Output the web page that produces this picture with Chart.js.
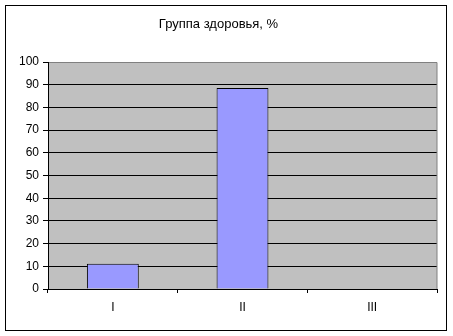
<!DOCTYPE html>
<html>
<head>
  <title>Группа здоровья</title>
  <script src="https://cdn.jsdelivr.net/npm/chart.js"></script>
  <style type="text/css">
    html, body { margin: 0; padding: 0; background: #fff; }
    .chart-box { position: relative; width: 453px; height: 336px; }
  </style>
</head>
<body>
  <div class="chart-box">
    <canvas id="myChart" width="453" height="336"></canvas>
  </div>
  <script>
    const categories = ['I', 'II', 'III'];
    const percents = [11.1, 88.6, 0];
    const yTicks = [0, 10, 20, 30, 40, 50, 60, 70, 80, 90, 100];

    // серый фон области построения, рамка диаграммы
    const excelLook = {
      id: 'excelLook',
      beforeDraw(chart) {
        const { ctx, chartArea: a } = chart;
        ctx.save();
        ctx.fillStyle = '#c0c0c0';
        ctx.fillRect(a.left, a.top, a.right - a.left, a.bottom - a.top);
        ctx.restore();
      },
      afterDraw(chart) {
        const { ctx, chartArea: a } = chart;
        ctx.save();
        ctx.strokeStyle = '#808080';
        ctx.lineWidth = 1;
        ctx.beginPath();
        ctx.moveTo(a.left + 1, Math.round(a.top) + 0.5);
        ctx.lineTo(a.right, Math.round(a.top) + 0.5);
        ctx.lineTo(a.right, a.bottom);
        ctx.stroke();
        ctx.strokeStyle = '#000';
        ctx.strokeRect(5.5, 5.5, 441, 325);
        ctx.restore();
      }
    };

    const ctx = document.getElementById('myChart').getContext('2d');
    const myChart = new Chart(ctx, {
      type: 'bar',
      data: {
        labels: categories,
        datasets: [{
          data: percents,
          backgroundColor: '#9999ff',
          borderColor: '#000',
          borderWidth: 1,
          barPercentage: 0.4,
          categoryPercentage: 1
        }]
      },
      options: {
        responsive: false,
        animation: false,
        devicePixelRatio: 1,
        layout: { padding: { top: 16, right: 16, bottom: 17, left: 0 } },
        plugins: {
          legend: { display: false },
          tooltip: { enabled: false },
          title: {
            display: true,
            text: 'Группа здоровья, %',
            color: '#000',
            font: { family: 'Liberation Sans, Arial', size: 13, weight: 'normal' },
            padding: { top: 0.2, bottom: 30.2 }
          }
        },
        scales: {
          x: {
            offset: true,
            grid: { offset: true, drawOnChartArea: false, drawTicks: true, tickLength: 4, color: '#000' },
            border: { color: '#000' },
            ticks: { color: '#000', padding: 7, font: { family: 'Liberation Sans, Arial', size: 12 } },
            afterFit(s) { s.height = 30; }
          },
          y: {
            min: 0,
            max: 100,
            afterBuildTicks(s) { s.ticks = yTicks.map(v => ({ value: v })); },
            grid: { color: '#000', tickLength: 5 },
            border: { color: '#000' },
            ticks: { color: '#000', padding: 4, font: { family: 'Liberation Sans, Arial', size: 12 } },
            afterFit(s) { s.width = 48; }
          }
        }
      },
      plugins: [excelLook]
    });
  </script>
</body>
</html>
